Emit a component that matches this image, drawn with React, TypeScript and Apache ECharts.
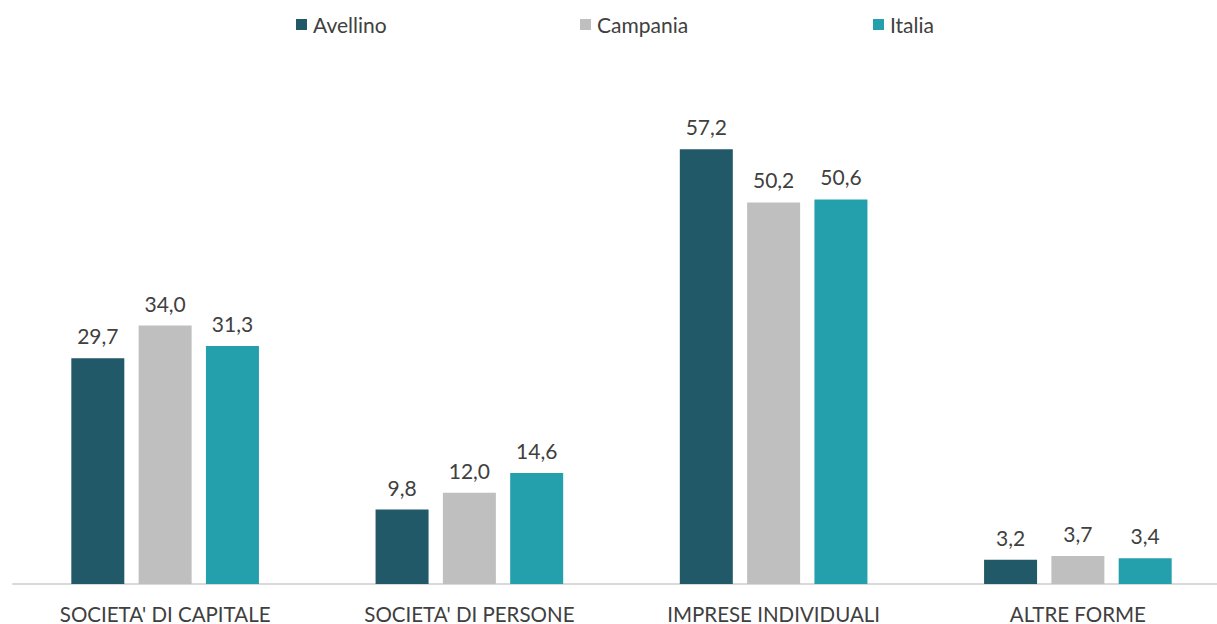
import React, { useEffect, useRef } from "react";
import * as echarts from "echarts";

const categories = ["SOCIETA' DI CAPITALE", "SOCIETA' DI PERSONE", "IMPRESE INDIVIDUALI", "ALTRE FORME"];
const seriesNames = ["Avellino", "Campania", "Italia"];
const avellino = [29.7, 9.8, 57.2, 3.2];
const campania = [34.0, 12.0, 50.2, 3.7];
const italia = [31.3, 14.6, 50.6, 3.4];
const colors = ["#215968", "#BFBFBF", "#23A0AC"];
const legendLeft = [296, 580, 873];

const FONT = "Lato";

export default function App() {
  const ref = useRef<HTMLDivElement>(null);
  useEffect(() => {
    const chart = echarts.init(ref.current!, null, { renderer: "svg" });
    const data = [avellino, campania, italia];
    chart.setOption({
      animation: false,
      textStyle: { fontFamily: FONT },
      legend: seriesNames.map((n, i) => ({
        data: [n],
        left: legendLeft[i],
        top: 14,
        padding: 0,
        itemWidth: 11,
        itemHeight: 11,
        itemGap: 5,
        icon: "rect",
        textStyle: { fontFamily: FONT, fontSize: 21, color: "#404040", padding: [0, 0, 0, 1] },
      })),
      grid: { left: 13, right: 0, top: 52, bottom: 40 },
      xAxis: {
        type: "category",
        data: categories,
        axisLine: { lineStyle: { color: "#D9D9D9", width: 2 } },
        axisTick: { show: false },
        axisLabel: { fontFamily: FONT, fontSize: 20.5, color: "#404040", margin: 19 },
      },
      yAxis: { type: "value", min: 0, max: 70, show: false, splitLine: { show: false } },
      series: seriesNames.map((n, i) => ({
        name: n,
        type: "bar",
        data: data[i],
        barWidth: 53,
        barGap: "27%",
        itemStyle: { color: colors[i] },
        label: {
          show: true,
          position: "top",
          distance: 12,
          fontFamily: FONT,
          fontSize: 21,
          color: "#404040",
          formatter: (p: any) => p.value.toFixed(1).replace(".", ","),
        },
      })),
    });
    return () => chart.dispose();
  }, []);
  return (
    <div style={{ position: "absolute", left: 0, top: 0, width: 1217, height: 624, overflow: "hidden" }}>
      <div ref={ref} style={{ width: 1230, height: 624 }} />
    </div>
  );
}
